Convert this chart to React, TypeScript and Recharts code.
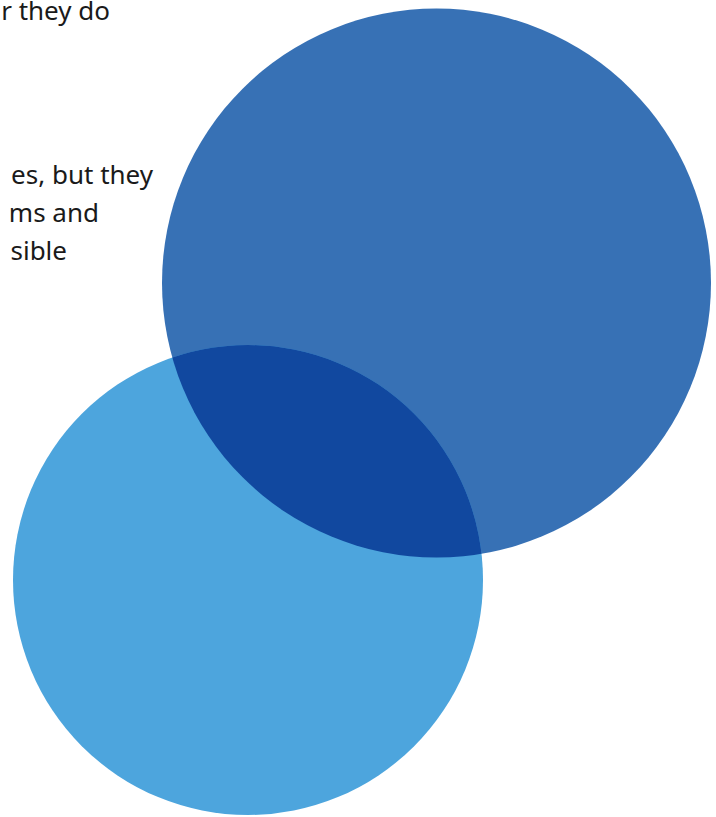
import React from 'react';
import { ScatterChart, Scatter, XAxis, YAxis, Customized } from 'recharts';

// circle sets (centre + radius in page pixels)
const setNames = ['outer', 'inner'];
const centerX = [436.5, 248];
const centerY = [283, 580];
const radius = [274.5, 235];

// text fragments visible on the left edge (cut off in the source)
const textLines = ['r they do', 'es, but they', 'ms and', 'sible'];
const textRight = [110, 153, 99, 67];
const textBaseline = [20, 184, 222, 260];

const W = 716;
const H = 817;

const bigData = [{ name: setNames[0], x: centerX[0], y: centerY[0], r: radius[0] }];
const smallData = [{ name: setNames[1], x: centerX[1], y: centerY[1], r: radius[1] }];

const BigCircle: React.FC<any> = ({ cx, cy, payload }) => (
  <g>
    <defs>
      <clipPath id="bigClip">
        <circle cx={cx} cy={cy} r={payload.r} />
      </clipPath>
    </defs>
    <circle cx={cx} cy={cy} r={payload.r} fill="#3771b5" />
  </g>
);

const SmallCircle: React.FC<any> = ({ cx, cy, payload }) => (
  <circle cx={cx} cy={cy} r={payload.r} fill="#4da5dd" />
);

const Overlap: React.FC<any> = ({ cx, cy, payload }) => (
  <circle cx={cx} cy={cy} r={payload.r} fill="#11489f" clipPath="url(#bigClip)" />
);

const Caption: React.FC<any> = () => (
  <g>
    {textLines.map((t, i) => (
      <text
        key={i}
        x={textRight[i]}
        y={textBaseline[i]}
        textAnchor="end"
        fontFamily="'Noto Sans', sans-serif"
        fontSize={26}
        fill="#1a1a1a"
      >
        {t}
      </text>
    ))}
  </g>
);

export default function App() {
  return (
    <div style={{ position: 'absolute', left: 0, top: 0, width: W, height: H, background: '#fff' }}>
      <ScatterChart width={W} height={H} margin={{ top: 0, right: 0, bottom: 0, left: 0 }}>
        <XAxis type="number" dataKey="x" domain={[0, W]} hide />
        <YAxis type="number" dataKey="y" domain={[0, H]} reversed hide />
        <Scatter data={bigData} shape={<BigCircle />} isAnimationActive={false} />
        <Scatter data={smallData} shape={<SmallCircle />} isAnimationActive={false} />
        <Scatter data={smallData} shape={<Overlap />} isAnimationActive={false} />
        <Customized component={<Caption />} />
      </ScatterChart>
    </div>
  );
}
